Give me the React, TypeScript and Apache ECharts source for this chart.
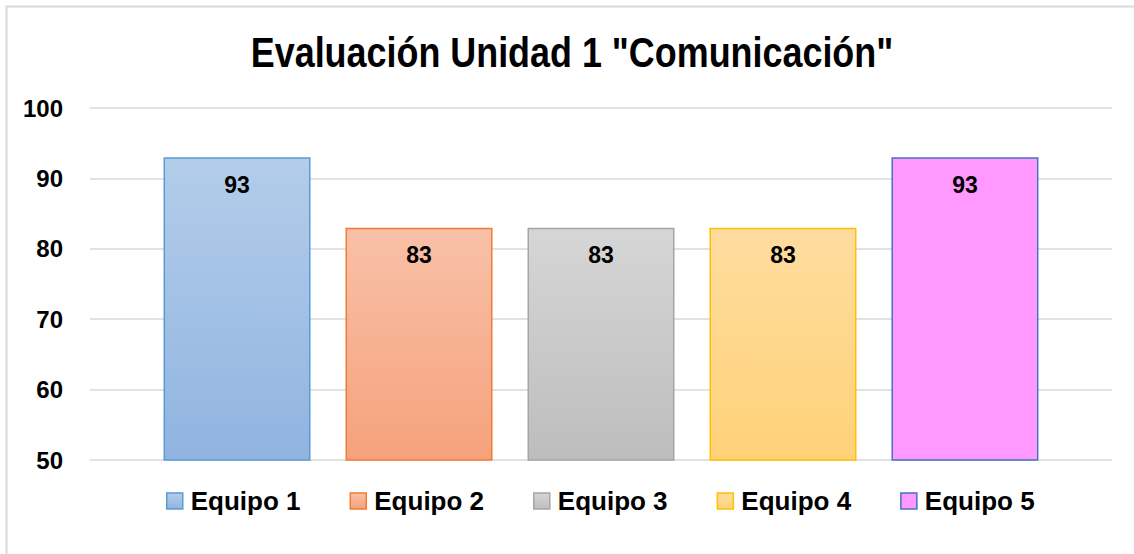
import React, { useEffect, useRef } from "react";
import * as echarts from "echarts";

const title = 'Evaluación Unidad 1 "Comunicación"';
const teams = ["Equipo 1", "Equipo 2", "Equipo 3", "Equipo 4", "Equipo 5"];
const scores = [93, 83, 83, 83, 93];
const yTicks = { min: 50, max: 100, interval: 10 };

const fills: [string, string][] = [
  ["#b3cdea", "#90b4e0"],
  ["#f8c1a8", "#f6a17c"],
  ["#d6d6d6", "#bdbdbd"],
  ["#ffdc9f", "#ffd279"],
  ["#ff99ff", "#ff99ff"],
];
const borders = ["#5b9bd5", "#ed7d31", "#a5a5a5", "#ffc000", "#4472c4"];

const FONT = "'Liberation Sans', Arial, sans-serif";

export default function App() {
  const ref = useRef<HTMLDivElement>(null);
  useEffect(() => {
    if (!ref.current) return;
    const chart = echarts.init(ref.current, undefined, { renderer: "svg" });
    const grad = (i: number) =>
      new echarts.graphic.LinearGradient(0, 0, 0, 1, [
        { offset: 0, color: fills[i][0] },
        { offset: 1, color: fills[i][1] },
      ]);
    chart.setOption({
      animation: false,
      backgroundColor: "#ffffff",
      graphic: [
        {
          type: "rect",
          shape: { x: 6.5, y: 6.5, width: 1200, height: 700 },
          style: { fill: "none", stroke: "#d9d9d9", lineWidth: 2 },
          silent: true,
        },
        {
          type: "text",
          x: 572,
          y: 31,
          scaleX: 0.855,
          style: {
            text: title,
            font: "bold 42px 'Liberation Sans', Arial, sans-serif",
            fill: "#000",
            align: "center",
            verticalAlign: "top",
          },
        },
      ],
      legend: {
        bottom: 35,
        left: 161,
        itemWidth: 16,
        itemHeight: 16,
        itemGap: 49,
        icon: "rect",
        textStyle: { fontFamily: FONT, fontWeight: "bold", fontSize: 26, color: "#000", padding: [0, 0, 0, 3] },
        data: teams.map((t, i) => ({
          name: t,
          itemStyle: { color: grad(i), borderColor: borders[i], borderWidth: 1.5 },
        })),
      },
      grid: { left: 90, right: 22, top: 108, bottom: 94 },
      xAxis: {
        type: "category",
        data: [""],
        axisLine: { show: false },
        axisTick: { show: false },
        axisLabel: { show: false },
      },
      yAxis: {
        type: "value",
        min: yTicks.min,
        max: yTicks.max,
        interval: yTicks.interval,
        axisLine: { show: false },
        axisTick: { show: false },
        axisLabel: {
          margin: 27,
          fontFamily: FONT,
          fontWeight: "bold",
          fontSize: 24,
          color: "#000",
        },
        splitLine: { lineStyle: { color: "#d9d9d9", width: 1.5 } },
      },
      series: teams.map((t, i) => ({
        name: t,
        type: "bar",
        data: [scores[i]],
        barWidth: 147,
        barGap: "23.8%",
        itemStyle: { color: grad(i), borderColor: borders[i], borderWidth: 1.5 },
        label: {
          show: true,
          position: "insideTop",
          distance: 16,
          fontFamily: FONT,
          fontWeight: "bold",
          fontSize: 23,
          color: "#000",
        },
      })),
    });
    return () => chart.dispose();
  }, []);
  return (
    <div
      ref={ref}
      style={{ position: "fixed", left: 0, top: 0, width: 1134, height: 554 }}
    />
  );
}
